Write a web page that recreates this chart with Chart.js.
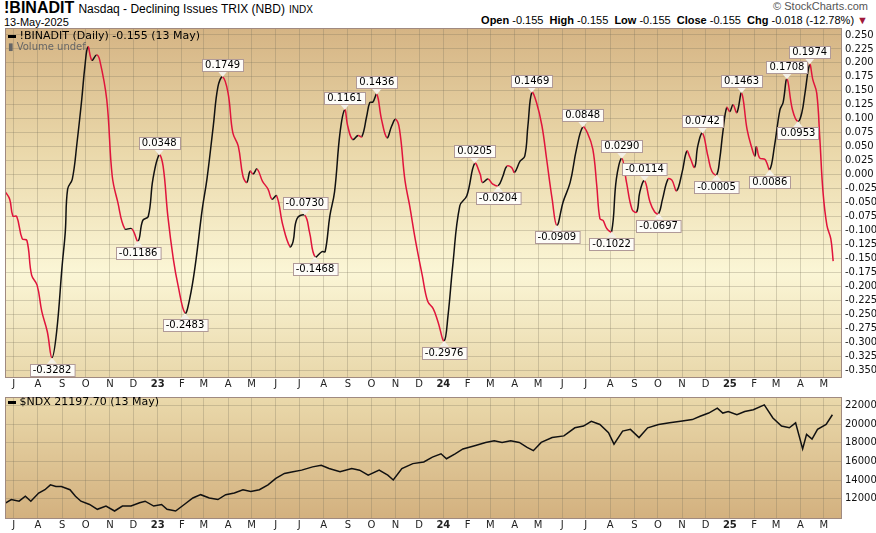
<!DOCTYPE html>
<html><head><meta charset="utf-8">
<script src="https://cdn.jsdelivr.net/npm/chart.js@4.4.1/dist/chart.umd.min.js"></script>
<style>
body{margin:0;width:876px;height:533px;background:#fff;position:relative;overflow:hidden;font-family:"Liberation Sans",Arial,sans-serif}
.t{position:absolute;white-space:nowrap;color:#000}
canvas{position:absolute;left:0}
</style></head><body>
<div class="t" style="left:4px;top:-1px;font-size:15px"><b style="font-size:16px">!BINADIT</b> <span style="font-size:12px">Nasdaq - Declining Issues TRIX (NBD)</span> <span style="font-size:10px">INDX</span></div>
<div class="t" style="left:4px;top:16px;font-size:11px">13-May-2025</div>
<div class="t" style="right:8px;top:0px;font-size:11px;color:#555">© StockCharts.com</div>
<div class="t" style="right:8px;top:14px;font-size:11px"><b>Open</b> -0.155 &nbsp;<b>High</b> -0.155 &nbsp;<b>Low</b> -0.155 &nbsp;<b>Close</b> -0.155 &nbsp;<b>Chg</b> -0.018 (-12.78%) <span style="color:#a0183a">▼</span></div>
<canvas id="c1" width="876" height="392" style="top:0;width:876px;height:392px"></canvas>
<canvas id="c2" width="876" height="146" style="top:387px;width:876px;height:146px"></canvas>
<div class="t" style="left:8px;top:29px;font-size:11px;font-family:'DejaVu Sans'"><span style="display:inline-block;width:8px;height:3px;background:#000;vertical-align:middle"></span> !BINADIT (Daily) -0.155 (13 May)</div>
<div class="t" style="left:8px;top:41px;font-size:10px;color:#666;font-family:'DejaVu Sans'">▮ Volume undef</div>
<div class="t" style="left:8px;top:395px;font-size:11px;font-family:'DejaVu Sans'"><span style="display:inline-block;width:8px;height:3px;background:#000;vertical-align:middle"></span> $NDX 21197.70 (13 May)</div>
<script>
// days since 2022-06-20
const trixDays=[0,6,10,15,22,28,34,41,47,54,60,66,73,77,80,86,92,98,102,106,111,117,121,130,137,144,153,162,170,176,183,189,197,202,208,215,221,230,236,243,252,258,266,272,278,285,291,298,304,309,313,317,322,329,336,341,347,355,364,368,373,383,389,396,405,409,415,421,428,434,438,444,451,456,462,466,470,475,481,488,494,499,504,511,517,524,533,540,547,553,561,566,572,581,590,600,607,610,617,623,630,636,641,647,651,658,664,668,673,679,686,692,699,705,713,722,730,738,744,751,756,760,764,769,775,781,788,794,801,807,811,817,824,830,835,840,847,852,858,865,871,875,881,885,891,898,903,909,913,917,922,926,930,935,941,948,954,958,960,964,971,977,983,990,994,999,1006,1013,1018,1022,1028,1032,1037,1041,1045,1050,1055,1058];
const trixValues=[-0.030,-0.044,-0.074,-0.075,-0.115,-0.118,-0.180,-0.198,-0.245,-0.281,-0.328,-0.281,-0.163,-0.103,-0.026,-0.008,0.057,0.134,0.193,0.229,0.205,0.214,0.205,0.134,-0.003,-0.049,-0.097,-0.097,-0.119,-0.082,-0.075,-0.008,0.035,0.015,-0.074,-0.151,-0.198,-0.248,-0.222,-0.163,-0.062,-0.008,0.086,0.157,0.175,0.146,0.075,0.051,-0.003,-0.014,0.006,0.001,0.010,-0.012,-0.026,-0.044,-0.038,-0.091,-0.129,-0.120,-0.079,-0.073,-0.103,-0.147,-0.138,-0.138,-0.074,-0.031,0.075,0.116,0.086,0.063,0.070,0.068,0.104,0.129,0.130,0.144,0.099,0.066,0.087,0.099,0.081,-0.011,-0.056,-0.115,-0.180,-0.227,-0.240,-0.263,-0.298,-0.252,-0.163,-0.056,-0.038,0.020,0.001,-0.014,-0.008,-0.017,-0.020,-0.003,0.015,0.013,0.004,0.024,0.033,0.087,0.147,0.129,0.087,0.027,-0.044,-0.091,-0.049,-0.014,0.045,0.085,0.075,0.045,-0.020,-0.079,-0.082,-0.097,-0.102,-0.008,0.029,-0.014,-0.062,-0.067,-0.031,-0.011,-0.049,-0.067,-0.070,-0.044,-0.008,-0.010,-0.029,0.004,0.042,0.031,0.013,0.051,0.074,0.033,0.006,-0.0005,0.027,0.075,0.120,0.113,0.125,0.111,0.146,0.081,0.048,0.033,0.050,0.030,0.027,0.009,0.051,0.116,0.129,0.171,0.116,0.095,0.111,0.146,0.197,0.170,0.146,0.063,-0.031,-0.091,-0.115,-0.155];
const peakDays=[60,170,197,230,278,383,396,434,475,561,600,630,673,705,738,775,788,817,835,891,909,941,977,999,1013,1028];
const peakValues=[-0.3282,-0.1186,0.0348,-0.2483,0.1749,-0.0730,-0.1468,0.1161,0.1436,-0.2976,0.0205,-0.0204,0.1469,-0.0909,0.0848,-0.1022,0.0290,-0.0114,-0.0697,0.0742,-0.0005,0.1463,0.0086,0.1708,0.0953,0.1974];
const peakAbove=[0,0,1,0,1,1,0,1,1,0,1,0,1,0,1,0,1,1,0,1,0,1,0,1,0,1];
const ndxDays=[1,8,18,26,33,43,51,58,65,72,83,90,97,108,118,129,140,150,161,172,179,190,200,207,218,229,240,250,261,272,282,293,304,314,325,336,346,357,368,379,393,404,414,428,443,453,464,478,489,496,507,521,535,546,557,564,575,585,600,614,625,635,646,657,667,675,685,699,714,728,739,749,760,771,778,789,799,810,821,835,849,863,878,888,899,910,917,924,935,945,956,970,981,992,1002,1010,1019,1024,1031,1038,1049,1057];
const ndxValues=[11580,11930,11750,12280,11750,12630,12980,13500,13330,13330,12980,12280,11750,11400,10880,11230,10700,11230,11230,11580,11750,11230,11400,10880,10700,11400,12100,12450,12100,11930,12450,12630,12980,12800,12980,13500,14200,14730,14900,15080,15430,15600,15250,14900,15250,15080,14550,15080,14550,14030,15250,15780,15950,16480,16830,16300,16830,17350,17700,18050,18220,18050,18220,18050,17520,17170,18050,18570,18750,19620,19800,20320,19970,19100,17870,19270,19450,18570,19620,19970,20150,20320,20500,20850,21200,21720,21200,21370,21020,21370,21550,22070,20670,19800,19620,20150,17350,18920,18400,19450,19970,21020];
const trixTicks=[];for(let v=-0.35;v<=0.2501;v+=0.025)trixTicks.push(Math.round(v*1000)/1000);
const ndxTicks=[12000,14000,16000,18000,20000,22000];
const monthLetters='JFMAMJJASOND';
const start=new Date(2022,5,20);
const monthTicks=[];
for(let y=2022;y<=2025;y++)for(let m=0;m<12;m++){const d=Math.round((new Date(y,m,1)-start)/864e5);if(d>=0&&d<=1068)monthTicks.push({value:d,label:m===0?String(y).slice(2):monthLetters[m],bold:m===0});}
const XMAX=1068;
function xAxis(){return{type:'linear',min:0,max:XMAX,
 afterBuildTicks:s=>{s.ticks=monthTicks.map(t=>({value:t.value}));},
 afterFit:s=>{s.height=15;},
 ticks:{autoSkip:false,maxRotation:0,padding:1,color:'#222',
  callback:(v)=>{const t=monthTicks.find(q=>q.value===v);return t?t.label:'';},
  font:c=>{const t=monthTicks[c.index];return{family:'DejaVu Sans',size:10,weight:t&&t.bold?'bold':'normal'};}},
 grid:{color:'rgba(120,110,90,0.28)',drawTicks:false},border:{color:'#999'}};}
function bg(stops){return{id:'bg',beforeDraw(ch){const a=ch.chartArea,c=ch.ctx;const g=c.createLinearGradient(0,a.top,0,a.bottom);stops.forEach(s=>g.addColorStop(s[0],s[1]));c.save();c.fillStyle=g;c.fillRect(a.left,a.top,a.right-a.left,a.bottom-a.top);c.restore();},
 afterDraw(ch){const a=ch.chartArea,c=ch.ctx;c.save();c.strokeStyle='#a08a80';c.lineWidth=1;c.strokeRect(a.left+0.5,a.top+0.5,a.right-a.left,a.bottom-a.top);c.restore();}};}
const labelPlugin={id:'lbl',afterDatasetsDraw(ch){const xs=ch.scales.x,ys=ch.scales.y,c=ch.ctx;c.save();c.font='10px "DejaVu Sans"';c.textAlign='center';c.textBaseline='middle';
 peakDays.forEach((d,i)=>{const x=xs.getPixelForValue(d),y=ys.getPixelForValue(peakValues[i]);const txt=peakValues[i].toFixed(4);const w=c.measureText(txt).width+6,h=12;const up=peakAbove[i];
  const by=up?y-6-h:y+6;
  c.fillStyle='#f4f0e6';c.strokeStyle='#b09a98';c.lineWidth=1;
  c.beginPath();if(up){c.moveTo(x-5,by+h);c.lineTo(x,y);c.lineTo(x+5,by+h);}else{c.moveTo(x-5,by);c.lineTo(x,y);c.lineTo(x+5,by);}c.closePath();c.fill();
  c.fillStyle='#fdfcf8';c.fillRect(Math.round(x-w/2)+0.5,Math.round(by)+0.5,w,h);c.strokeRect(Math.round(x-w/2)+0.5,Math.round(by)+0.5,w,h);
  c.fillStyle='#000';c.fillText(txt,x,by+h/2+0.5);});c.restore();}};
new Chart(document.getElementById('c1'),{type:'line',
 data:{datasets:[{data:trixDays.map((d,i)=>({x:d,y:trixValues[i]})),borderWidth:1.5,pointRadius:0,tension:0.4,borderColor:'#000',
  segment:{borderColor:c=>c.p1.parsed.y>=c.p0.parsed.y?'#111':'#e0143c'}}]},
 options:{responsive:false,animation:false,layout:{padding:{left:5,top:28,right:0,bottom:0}},plugins:{legend:{display:false},tooltip:{enabled:false}},
  scales:{x:xAxis(),y:{position:'right',min:-0.3625,max:0.2625,
   afterBuildTicks:s=>{s.ticks=trixTicks.map(v=>({value:v}));},afterFit:s=>{s.width=35;},
   ticks:{autoSkip:false,padding:4,color:'#111',font:{family:'DejaVu Sans',size:10},callback:v=>v.toFixed(3)},
   grid:{color:'rgba(120,110,90,0.28)',drawTicks:false},border:{color:'#999'}}}},
 plugins:[bg([[0,'#d5b484'],[0.35,'#ead8aa'],[0.7,'#fbf6d6'],[1,'#e9d8ab']]),labelPlugin]});
new Chart(document.getElementById('c2'),{type:'line',
 data:{datasets:[{data:ndxDays.map((d,i)=>({x:d,y:ndxValues[i]})),borderWidth:1.5,pointRadius:0,borderColor:'#111',tension:0}]},
 options:{responsive:false,animation:false,layout:{padding:{left:5,top:1,right:0,bottom:0}},plugins:{legend:{display:false},tooltip:{enabled:false}},
  scales:{x:xAxis(),y:{position:'right',min:9950,max:22920,
   afterBuildTicks:s=>{s.ticks=ndxTicks.map(v=>({value:v}));},afterFit:s=>{s.width=35;},
   ticks:{autoSkip:false,padding:4,color:'#111',font:{family:'DejaVu Sans',size:10},callback:v=>String(v)},
   grid:{color:'rgba(120,110,90,0.28)',drawTicks:false},border:{color:'#999'}}}},
 plugins:[bg([[0,'#ead9ab'],[1,'#d3b17f']])]});
</script></body></html>
